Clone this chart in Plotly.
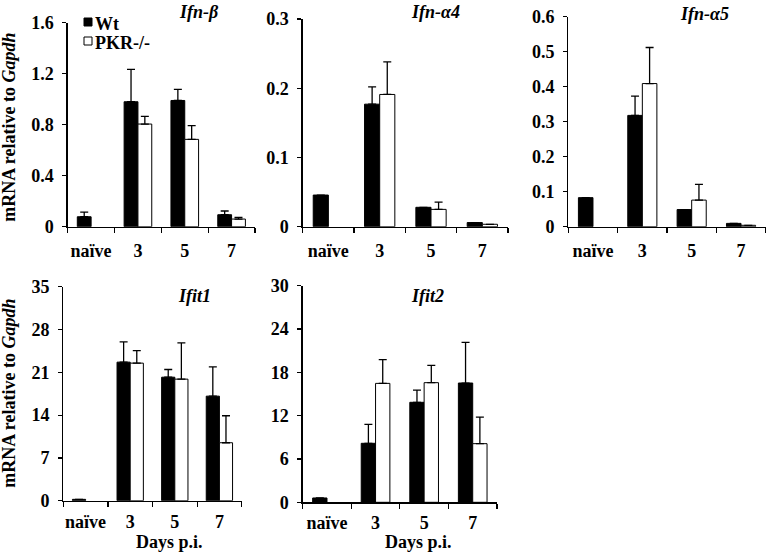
import plotly.graph_objects as go

# ---------------- data ----------------
categories = ["naïve", "3", "5", "7"]
genes = ["Ifn-β", "Ifn-α4", "Ifn-α5", "Ifit1", "Ifit2"]
series_names = ["Wt", "PKR-/-"]

ifnb_wt = [0.078, 0.98, 0.99, 0.094]
ifnb_wt_err = [0.037, 0.254, 0.087, 0.029]
ifnb_ko = [None, 0.805, 0.685, 0.06]
ifnb_ko_err = [None, 0.06, 0.107, 0.013]

ifna4_wt = [0.0457, 0.177, 0.028, 0.006]
ifna4_wt_err = [None, 0.025, None, None]
ifna4_ko = [None, 0.191, 0.025, 0.0035]
ifna4_ko_err = [None, 0.047, 0.0106, None]

ifna5_wt = [0.083, 0.318, 0.049, 0.0095]
ifna5_wt_err = [None, 0.055, None, None]
ifna5_ko = [None, 0.409, 0.076, 0.004]
ifna5_ko_err = [None, 0.103, 0.045, None]

ifit1_wt = [0.22, 22.66, 20.2, 17.1]
ifit1_wt_err = [None, 3.32, 1.26, 4.8]
ifit1_ko = [None, 22.5, 19.88, 9.48]
ifit1_ko_err = [None, 2.06, 5.94, 4.41]

ifit2_wt = [0.6, 8.17, 13.85, 16.52]
ifit2_wt_err = [None, 2.63, 1.7, 5.63]
ifit2_ko = [None, 16.47, 16.57, 8.12]
ifit2_ko_err = [None, 3.28, 2.4, 3.68]

y_ranges = [[0, 1.6], [0, 0.3], [0, 0.6], [0, 35], [0, 30]]
y_dticks = [0.4, 0.1, 0.1, 7, 6]

wt_values = [ifnb_wt, ifna4_wt, ifna5_wt, ifit1_wt, ifit2_wt]
wt_errors = [ifnb_wt_err, ifna4_wt_err, ifna5_wt_err, ifit1_wt_err, ifit2_wt_err]
ko_values = [ifnb_ko, ifna4_ko, ifna5_ko, ifit1_ko, ifit2_ko]
ko_errors = [ifnb_ko_err, ifna4_ko_err, ifna5_ko_err, ifit1_ko_err, ifit2_ko_err]

# ---------------- layout geometry (pixels) ----------------
W, H = 768, 558
# (x0, x1, ytop, ybottom) of each plot area in pixels
boxes = [
    (67.7, 255.0, 22.7, 226.7),
    (302.7, 508.0, 19.0, 226.7),
    (568.3, 765.7, 16.7, 226.7),
    (63.3, 241.7, 286.7, 500.7),
    (302.7, 497.0, 285.7, 502.3),
]
title_pos = [(199, 12), (435, 12), (704, 14), (194, 296), (427, 296)]

FONT = "Times New Roman, Liberation Serif, Tinos, DejaVu Serif, serif"
BLACK = "#000000"


def px(x):
    return x / W


def py(y):
    return 1 - y / H


fig = go.Figure()
layout = dict(
    width=W, height=H,
    margin=dict(l=0, r=0, t=0, b=0),
    paper_bgcolor="white", plot_bgcolor="white",
    barmode="group", bargap=0.41, bargroupgap=0,
    showlegend=False,
    font=dict(family=FONT, color=BLACK, size=17),
)

for i in range(5):
    sfx = "" if i == 0 else str(i + 1)
    xa, ya = "x" + sfx, "y" + sfx
    fig.add_trace(go.Bar(
        x=categories, y=wt_values[i], name=series_names[0],
        xaxis=xa, yaxis=ya, offsetgroup="wt",
        marker=dict(color=BLACK, line=dict(color=BLACK, width=1)),
        error_y=dict(type="data", array=wt_errors[i], symmetric=False,
                     arrayminus=[0] * 4, color=BLACK, thickness=1.3, width=4),
    ))
    fig.add_trace(go.Bar(
        x=categories, y=ko_values[i], name=series_names[1],
        xaxis=xa, yaxis=ya, offsetgroup="ko",
        marker=dict(color="white", line=dict(color=BLACK, width=1)),
        error_y=dict(type="data", array=ko_errors[i], symmetric=False,
                     arrayminus=[0] * 4, color=BLACK, thickness=1.3, width=4),
    ))
    x0, x1, yt, yb = boxes[i]
    bottom = i >= 3
    layout["xaxis" + sfx] = dict(
        domain=[px(x0), px(x1)], anchor=ya, type="category",
        showline=True, linecolor=BLACK, linewidth=1.3,
        ticks="outside", tickson="boundaries", ticklen=5, tickwidth=1.2,
        tickcolor=BLACK, showgrid=False, zeroline=False, tickangle=0,
        ticklabelstandoff=4 if bottom else 7,
        tickfont=dict(family=FONT, size=18, weight="bold", color=BLACK),
        fixedrange=True, automargin=False,
    )
    layout["yaxis" + sfx] = dict(
        domain=[py(yb), py(yt)], anchor=xa, range=y_ranges[i],
        tick0=0, dtick=y_dticks[i],
        showline=True, linecolor=BLACK, linewidth=1.3,
        ticks="outside", ticklen=4, tickwidth=1.2, tickcolor=BLACK,
        showgrid=False, zeroline=False, ticklabelstandoff=5,
        tickfont=dict(family=FONT, size=18, weight="bold", color=BLACK),
        fixedrange=True, automargin=False,
    )

annotations = []
for i, g in enumerate(genes):
    tx, ty = title_pos[i]
    annotations.append(dict(
        text="<b><i>%s</i></b>" % g, x=px(tx), y=py(ty), xref="paper", yref="paper",
        showarrow=False, xanchor="center", yanchor="middle",
        font=dict(family=FONT, size=18, color=BLACK),
    ))

# y-axis titles
for yc in [(22.7 + 226.7) / 2 + 3, (286.7 + 500.7) / 2]:
    annotations.append(dict(
        text="<b>mRNA relative to <i>Gapdh</i></b>", textangle=-90,
        x=px(9), y=py(yc), xref="paper", yref="paper", showarrow=False,
        xanchor="center", yanchor="middle",
        font=dict(family=FONT, size=18, color=BLACK),
    ))

# x-axis titles
for xc in [169, 418]:
    annotations.append(dict(
        text="<b>Days p.i.</b>", x=px(xc), y=py(542), xref="paper", yref="paper",
        showarrow=False, xanchor="center", yanchor="middle",
        font=dict(family=FONT, size=18, color=BLACK),
    ))

# legend (drawn manually, top-left of first panel)
legend_rows = [(22, 24, BLACK), (41, 43, "white")]
shapes = []
for (ys, yt_, col), name in zip(legend_rows, series_names):
    shapes.append(dict(
        type="rect", xref="paper", yref="paper",
        x0=px(84), x1=px(92), y0=py(ys + 4), y1=py(ys - 4),
        fillcolor=col, line=dict(color=BLACK, width=1),
    ))
    annotations.append(dict(
        text="<b>%s</b>" % name, x=px(93), y=py(yt_), xref="paper", yref="paper",
        showarrow=False, xanchor="left", yanchor="middle",
        font=dict(family=FONT, size=18, color=BLACK),
    ))

layout["annotations"] = annotations
layout["shapes"] = shapes
fig.update_layout(**layout)
fig.write_html(
    "out.html",
    config={"displayModeBar": False, "staticPlot": True},
    post_script="document.body.style.margin='0px';document.body.style.overflow='hidden';",
)
